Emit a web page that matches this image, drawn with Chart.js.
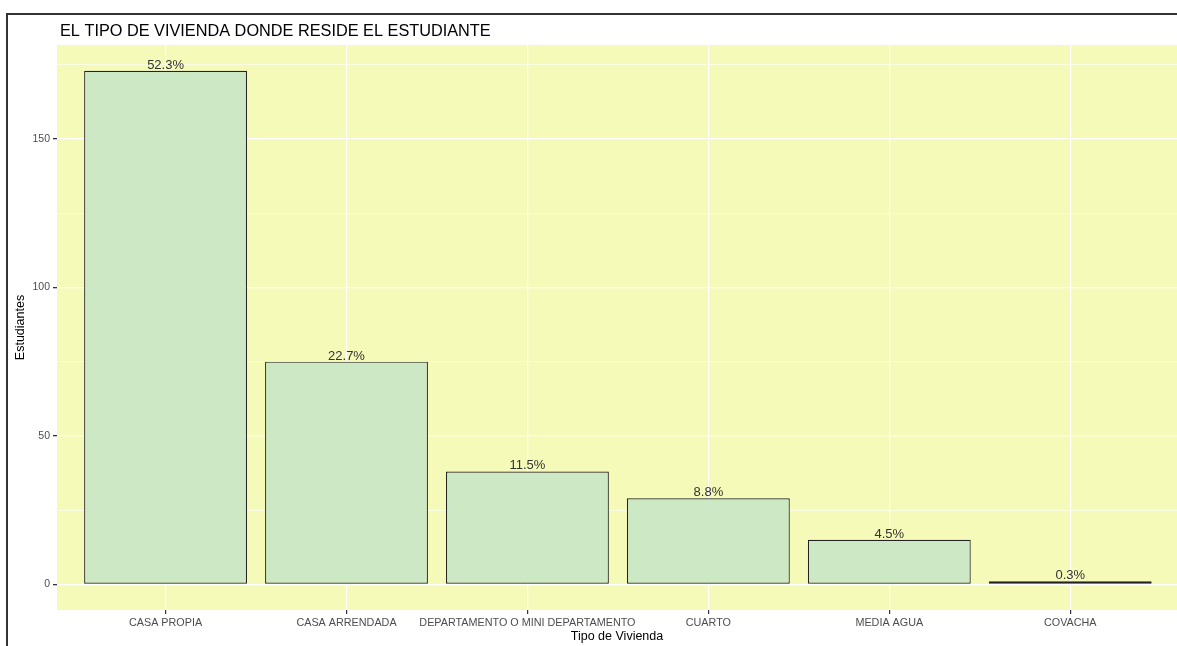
<!DOCTYPE html>
<html>
<head>
<meta charset="utf-8">
<title>Tipo de Vivienda</title>
<script src="https://cdn.jsdelivr.net/npm/chart.js@4.4.0/dist/chart.umd.min.js"></script>
<style>
    html, body { margin: 0; padding: 0; background: #fff; overflow: hidden; }
    #wrap { position: relative; width: 1177px; height: 646px; }
</style>
</head>
<body>
<div id="wrap"><canvas id="chart" width="1177" height="646"></canvas></div>
<script>
// Data
const categories = ['CASA PROPIA', 'CASA ARRENDADA', 'DEPARTAMENTO O MINI DEPARTAMENTO', 'CUARTO', 'MEDIA AGUA', 'COVACHA'];
const students = [173, 75, 38, 29, 15, 1];
const yMajorTicks = [0, 50, 100, 150];
const yMinorTicks = [25, 75, 125, 175];

const total = students.reduce((a, b) => a + b, 0);
const percentLabels = students.map(v => (v / total * 100).toFixed(1) + '%');

const panelColor = '#f6fab8';
const barFill = '#cde8c5';
const tickGrey = '#4d4d4d';

Chart.defaults.font.family = '"Liberation Sans", Arial, sans-serif';

// panel background, title, frame and bar labels
const decorations = {
    id: 'decorations',
    beforeDraw(chart) {
        const { ctx, chartArea: a } = chart;
        ctx.save();
        ctx.fillStyle = panelColor;
        ctx.fillRect(a.left, a.top, a.right - a.left, a.bottom - a.top);
        ctx.restore();
    },
    afterDatasetsDraw(chart) {
        const ctx = chart.ctx;
        const meta = chart.getDatasetMeta(0);
        ctx.save();
        ctx.fillStyle = '#333';
        ctx.font = '13px "Liberation Sans", Arial, sans-serif';
        ctx.textAlign = 'center';
        ctx.textBaseline = 'alphabetic';
        meta.data.forEach((bar, i) => {
            ctx.fillText(percentLabels[i], bar.x, bar.y - 2);
        });
        ctx.restore();
    },
    afterDraw(chart) {
        const ctx = chart.ctx;
        ctx.save();
        ctx.fillStyle = '#000';
        ctx.font = '16.3px "Liberation Sans", Arial, sans-serif';
        ctx.textAlign = 'left';
        ctx.textBaseline = 'middle';
        ctx.fillText('EL TIPO DE VIVIENDA DONDE RESIDE EL ESTUDIANTE', 60, 32);

        ctx.strokeStyle = '#333';
        ctx.lineWidth = 2;
        ctx.beginPath();
        ctx.moveTo(7, 646);
        ctx.lineTo(7, 14);
        ctx.lineTo(1177, 14);
        ctx.stroke();
        ctx.restore();
    }
};

new Chart(document.getElementById('chart'), {
    type: 'bar',
    data: {
        datasets: [{
            data: students.map((v, i) => ({ x: i, y: v })),
            backgroundColor: barFill,
            borderColor: '#222',
            borderWidth: 1.2,
            borderSkipped: false,
            barPercentage: 0.9,
            categoryPercentage: 1
        }]
    },
    options: {
        responsive: false,
        animation: false,
        layout: { padding: { top: 45, left: 0, right: 0, bottom: 0 } },
        plugins: {
            legend: { display: false },
            tooltip: { enabled: false },
            title: { display: false }
        },
        scales: {
            x: {
                type: 'linear',
                offset: false,
                min: -0.6,
                max: 5.59,
                afterBuildTicks: scale => {
                    scale.ticks = categories.map((c, i) => ({ value: i }));
                },
                afterFit: scale => { scale.height = 36; },
                ticks: {
                    callback: v => categories[v],
                    color: tickGrey,
                    font: { size: 10.8 },
                    padding: 3,
                    maxRotation: 0,
                    autoSkip: false
                },
                grid: {
                    offset: false,
                    color: '#fff',
                    lineWidth: 1.2,
                    tickLength: 4,
                    tickColor: '#333'
                },
                border: { display: false },
                title: {
                    display: true,
                    text: 'Tipo de Vivienda',
                    color: '#000',
                    font: { size: 12.5 },
                    padding: { top: 0, bottom: 2 }
                }
            },
            y: {
                min: -8.65,
                max: 181.65,
                afterBuildTicks: scale => {
                    scale.ticks = yMajorTicks.concat(yMinorTicks).sort((a, b) => a - b).map(v => ({ value: v }));
                },
                afterFit: scale => { scale.width = 57; },
                ticks: {
                    callback: v => yMajorTicks.includes(v) ? v : '',
                    color: tickGrey,
                    font: { size: 10.5 },
                    padding: 3
                },
                grid: {
                    color: '#fff',
                    lineWidth: ctx => yMajorTicks.includes(ctx.tick.value) ? 1.3 : 0.6,
                    tickLength: 4,
                    tickColor: ctx => yMajorTicks.includes(ctx.tick.value) ? '#333' : 'rgba(0,0,0,0)'
                },
                border: { display: false },
                title: {
                    display: true,
                    text: 'Estudiantes',
                    color: '#000',
                    font: { size: 12.5 },
                    padding: { top: 13, bottom: 0 }
                }
            }
        }
    },
    plugins: [decorations]
});
</script>
</body>
</html>
